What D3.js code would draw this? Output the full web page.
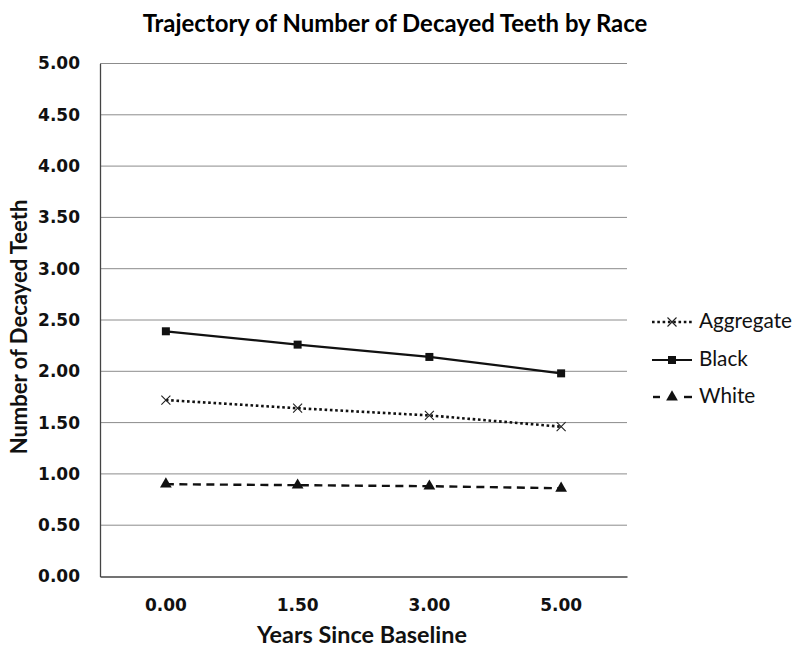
<!DOCTYPE html>
<html><head><meta charset="utf-8">
<script src="https://cdn.jsdelivr.net/npm/d3@7"></script>
<style>body{margin:0;background:#fff}</style>
</head><body>
<script>
const categories = ["0.00", "1.50", "3.00", "5.00"];
const yTicks = [0, 0.5, 1, 1.5, 2, 2.5, 3, 3.5, 4, 4.5, 5];
const aggregate = [1.72, 1.64, 1.57, 1.46];
const black = [2.39, 2.26, 2.14, 1.98];
const white = [0.90, 0.89, 0.88, 0.86];
const seriesNames = ["Aggregate", "Black", "White"];

const W = 800, H = 663;
const m = {left: 100, right: 173, top: 63.5, bottom: 86.5};
const svg = d3.select("body").append("svg").attr("width", W).attr("height", H);
const x = d3.scaleBand().domain(categories).range([m.left, W - m.right]);
const y = d3.scaleLinear().domain([0, 5]).range([H - m.bottom, m.top]);
const cx = c => x(c) + x.bandwidth() / 2;
const lab = "Lato, 'Open Sans', sans-serif";
const tick = "'DejaVu Sans', Verdana, sans-serif";

function fit(t, target) {
  const s = parseFloat(t.attr("font-size"));
  const w = t.node().getComputedTextLength();
  t.attr("font-size", s * target / w);
  return s * target / w;
}

// gridlines
svg.append("g").selectAll("line").data(yTicks.slice(1)).join("line")
  .attr("x1", m.left).attr("x2", W - m.right)
  .attr("y1", d => y(d)).attr("y2", d => y(d))
  .attr("stroke", "#8c8c8c").attr("stroke-width", 1);

// y axis
const ya = svg.append("g").attr("transform", `translate(${m.left},0)`)
  .call(d3.axisLeft(y).tickValues(yTicks).tickFormat(d3.format(".2f")).tickSize(0).tickPadding(20));
ya.select(".domain").attr("stroke", "#444").attr("stroke-width", 1.3);
ya.selectAll("text").attr("font-family", tick).attr("font-weight", "bold").attr("font-size", 17).attr("fill", "#111");

// x axis
const xa = svg.append("g").attr("transform", `translate(0,${H - m.bottom})`)
  .call(d3.axisBottom(x).tickSize(0).tickPadding(22));
xa.select(".domain").attr("stroke", "#444").attr("stroke-width", 1.3);
xa.selectAll("text").attr("font-family", tick).attr("font-weight", "bold").attr("font-size", 17).attr("fill", "#111");

// title
const tt = svg.append("text").attr("x", 395).attr("y", 32).attr("text-anchor", "middle")
  .attr("font-family", lab).attr("font-weight", "bold").attr("font-size", 19).attr("fill", "#000")
  .text("Trajectory of Number of Decayed Teeth by Race");
fit(tt, 505);
const xt = svg.append("text").attr("x", 362).attr("y", 643).attr("text-anchor", "middle")
  .attr("font-family", lab).attr("font-weight", "bold").attr("font-size", 18).attr("fill", "#111")
  .text("Years Since Baseline");
fit(xt, 210);
const yt = svg.append("text").attr("transform", "translate(27,327) rotate(-90)").attr("text-anchor", "middle")
  .attr("font-family", lab).attr("font-weight", "bold").attr("font-size", 18).attr("fill", "#111")
  .text("Number of Decayed Teeth");
fit(yt, 255);

const line = d3.line().x((d, i) => cx(categories[i])).y(d => y(d));
const styles = {
  Aggregate: {data: aggregate, dash: "2.6 2.7", w: 2.6},
  Black: {data: black, dash: null, w: 2.2},
  White: {data: white, dash: "8 5.5", w: 2.4}
};
function marker(g, name, px, py) {
  if (name === "Black") {
    g.append("rect").attr("x", px - 4).attr("y", py - 4).attr("width", 8).attr("height", 8).attr("fill", "#111");
  } else if (name === "White") {
    const s = d3.symbol().type(d3.symbolTriangle).size(60);
    g.append("path").attr("d", s()).attr("transform", `translate(${px},${py})`).attr("fill", "#111");
  } else {
    g.append("path").attr("d", `M${px-4.5},${py-4.5}L${px+4.5},${py+4.5}M${px-4.5},${py+4.5}L${px+4.5},${py-4.5}`)
      .attr("stroke", "#222").attr("stroke-width", 1.1).attr("fill", "none");
  }
}
seriesNames.forEach(n => {
  const st = styles[n];
  const g = svg.append("g");
  g.append("path").datum(st.data).attr("d", line).attr("fill", "none").attr("stroke", "#111")
    .attr("stroke-width", st.w).attr("stroke-dasharray", st.dash);
  st.data.forEach((v, i) => marker(g, n, cx(categories[i]), y(v)));
});

// legend
const legY = [322, 360, 397];
let legSize = 18;
seriesNames.forEach((n, i) => {
  const st = styles[n];
  const g = svg.append("g");
  const yy = legY[i];
  if (n === "White") {
    g.append("line").attr("x1", 653).attr("x2", 660).attr("y1", yy).attr("y2", yy).attr("stroke", "#111").attr("stroke-width", st.w);
    g.append("line").attr("x1", 684).attr("x2", 692).attr("y1", yy).attr("y2", yy).attr("stroke", "#111").attr("stroke-width", st.w);
  } else {
    g.append("line").attr("x1", 652).attr("x2", 692).attr("y1", yy).attr("y2", yy)
      .attr("stroke", "#111").attr("stroke-width", st.w).attr("stroke-dasharray", st.dash);
  }
  marker(g, n, 672, yy);
  const t = g.append("text").attr("x", 699).attr("y", yy + 6).attr("font-family", lab)
    .attr("font-size", legSize).attr("fill", "#111").text(n);
  if (n === "Aggregate") legSize = fit(t, 93);
});
</script>
</body></html>
